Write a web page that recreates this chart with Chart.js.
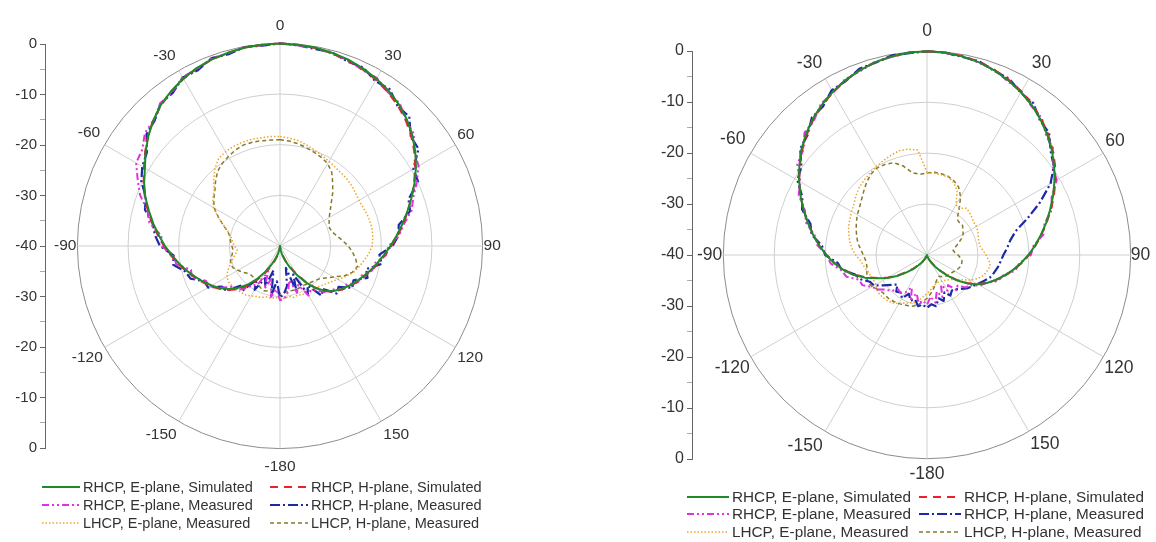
<!DOCTYPE html>
<html>
<head>
<meta charset="utf-8">
<script src="https://cdn.jsdelivr.net/npm/chart.js@4.4.1/dist/chart.umd.min.js"></script>
<style>
  html, body { margin: 0; padding: 0; background: #fff; width: 1156px; height: 542px; overflow: hidden; }
  body { position: relative; font-family: "Liberation Sans", Arial, sans-serif; }
  canvas { position: absolute; }
  .legend { position: absolute; display: grid; color: #333; white-space: nowrap; z-index: 2; }
  .legend .item { display: flex; align-items: center; }
  .legend svg { display: block; margin-right: 3px; }
</style>
</head>
<body>
<canvas id="axisLeft" width="50" height="444" style="left:0;top:24px"></canvas>
<canvas id="polarLeft" width="452" height="520" style="left:52px;top:-14px"></canvas>
<div id="legendLeft" class="legend" style="left:42px;top:478px;grid-template-columns:228px auto;grid-auto-rows:18px;font-size:14.5px"></div>

<canvas id="axisRight" width="48" height="448" style="left:650px;top:31px"></canvas>
<canvas id="polarRight" width="460" height="540" style="left:694px;top:-15px"></canvas>
<div id="legendRight" class="legend" style="left:687px;top:488px;grid-template-columns:232px auto;grid-auto-rows:17.5px;font-size:15.3px"></div>

<script>
// angle of every sample, degrees clockwise from the top
const angles = [0, 5, 10, 15, 20, 25, 30, 35, 40, 45, 50, 55, 60, 65, 70, 75, 80, 85,
  90, 95, 100, 105, 110, 115, 120, 125, 130, 135, 140, 145, 150, 155, 160, 165, 170, 175,
  180, 185, 190, 195, 200, 205, 210, 215, 220, 225, 230, 235, 240, 245, 250, 255, 260, 265,
  270, 275, 280, 285, 290, 295, 300, 305, 310, 315, 320, 325, 330, 335, 340, 345, 350, 355];

// left axis tick labels, top to bottom
const dbTickLabels = ['0', '-10', '-20', '-30', '-40', '-30', '-20', '-10', '0'];

const seriesNames = ['RHCP, E-plane, Simulated', 'RHCP, H-plane, Simulated',
  'RHCP, E-plane, Measured', 'RHCP, H-plane, Measured',
  'LHCP, E-plane, Measured', 'LHCP, H-plane, Measured'];

// ---- left figure (dB) ----
const leftESim = [0, -0.1, -0.2, -0.5, -0.8, -1.3, -1.9, -2.6, -3.5, -4.6, -5.9, -7.4, -9.0, -10.7, -12.4, -14.0, -15.5, -16.9, -18.2, -19.4, -20.5, -21.5, -22.5, -23.4, -24.3, -25.2, -26.2, -27.5, -29.2, -31.3, -33.5, -35.3, -36.8, -38.0, -39.0, -39.7, -40,
  -39.8, -39.2, -38.3, -37.2, -35.8, -34.0, -32.0, -30.0, -28.3, -26.8, -25.5, -24.4, -23.3, -22.2, -21.0, -19.8, -18.6, -17.3, -16.0, -14.6, -13.2, -11.7, -10.4, -9.2, -7.6, -6.1, -4.7, -3.5, -2.6, -1.8, -1.2, -0.8, -0.5, -0.2, -0.1];
const leftHSim = [0, -0.1, -0.3, -0.6, -1.0, -1.5, -2.1, -2.9, -3.8, -4.9, -6.2, -7.6, -9.2, -10.8, -12.4, -13.9, -15.3, -16.7, -18.0, -19.2, -20.3, -21.3, -22.3, -23.2, -24.1, -25.0, -26.0, -27.4, -29.3, -31.6, -33.8, -35.6, -37.0, -38.2, -39.1, -39.7, -40,
  -39.7, -39.0, -38.0, -36.8, -35.3, -33.5, -31.5, -29.5, -27.9, -26.5, -25.3, -24.2, -23.1, -22.0, -20.8, -19.6, -18.4, -17.1, -15.8, -14.4, -13.0, -11.6, -10.3, -9.0, -7.5, -6.0, -4.7, -3.6, -2.7, -1.9, -1.3, -0.8, -0.5, -0.2, -0.1];
const leftEMeas = [0, -0.3, -0.2, -0.7, -0.9, -1.6, -1.7, -2.9, -3.2, -4.9, -5.5, -7.6, -8.4, -10.2, -12.0, -13.1, -15.2, -16.4, -18.6, -19.0, -20.9, -21.2, -22.9, -23.0, -24.8, -25.0, -26.6, -27.0, -28.5, -29.4, -28.7, -31.5, -30.2, -33.0, -30.8, -29.6, -29.3,
  -31.5, -29.8, -33.2, -31.0, -34.5, -31.2, -30.5, -28.9, -27.8, -27.5, -25.6, -24.0, -23.8, -21.5, -21.8, -19.2, -18.9, -16.6, -16.5, -13.8, -12.9, -10.6, -9.0, -7.2, -6.8, -5.2, -4.8, -3.2, -2.9, -1.5, -1.4, -0.6, -0.6, -0.1, -0.2];
const leftHMeas = [0, -0.2, -0.5, -0.4, -1.2, -1.1, -2.4, -2.2, -3.9, -3.9, -6.3, -6.6, -9.6, -9.9, -13.0, -13.4, -16.2, -16.5, -17.8, -20.3, -19.6, -22.4, -21.6, -24.0, -23.5, -25.9, -25.4, -28.0, -27.2, -30.5, -29.0, -33.8, -30.5, -35.5, -32.0, -30.6, -29.8,
  -33.0, -30.2, -35.0, -31.5, -33.0, -30.0, -31.8, -28.5, -28.9, -26.2, -26.0, -23.6, -23.5, -21.2, -20.6, -18.6, -18.9, -16.3, -15.2, -14.5, -12.4, -11.8, -9.8, -8.6, -7.9, -5.6, -5.0, -3.3, -3.1, -1.6, -1.7, -0.5, -0.8, -0.1, -0.3];
const leftELhcp = [-18.4, -18.6, -18.9, -19.4, -19.9, -20.3, -20.7, -21.0, -21.2, -21.3, -21.5, -21.8, -22.0, -21.9, -21.7, -21.6, -21.5, -21.6, -21.8, -22.4, -23.2, -23.9, -24.6, -25.7, -26.8, -27.7, -28.3, -28.8, -29.1, -29.4, -29.6, -29.4, -29.7, -29.5, -29.9, -29.6, -29.7,
  -29.8, -29.5, -29.6, -29.2, -29.0, -28.6, -28.2, -28.0, -27.9, -27.7, -27.6, -27.9, -28.6, -29.6, -30.4, -31.1, -31.5, -31.0, -30.6, -30.2, -29.5, -28.2, -26.5, -24.8, -23.8, -23.0, -21.5, -20.0, -18.9, -18.5, -18.3, -18.2, -18.2, -18.3, -18.3];
const leftHLhcp = [-19.0, -19.2, -19.5, -19.9, -20.3, -20.7, -21.2, -22.2, -23.8, -25.3, -26.8, -27.9, -28.8, -29.3, -29.6, -29.3, -28.6, -27.6, -26.5, -25.6, -24.8, -24.2, -24.8, -26.0, -27.8, -29.0, -29.9, -30.3, -30.6, -30.8, -31.0, -30.9, -30.8, -30.9, -31.0, -30.7, -30.6,
  -30.8, -31.0, -30.8, -30.6, -30.9, -31.3, -31.6, -31.9, -31.9, -31.6, -31.0, -30.4, -29.8, -29.6, -29.9, -30.4, -30.7, -30.5, -30.2, -30.0, -29.4, -28.1, -26.6, -25.0, -24.0, -23.2, -22.0, -20.8, -20.1, -19.6, -19.1, -18.8, -18.8, -18.9, -19.0];

// ---- right figure (dB) ----
const rightESim = [0, -0.1, -0.4, -0.8, -1.4, -2.2, -3.1, -4.1, -5.3, -6.6, -8.0, -9.5, -11.1, -12.7, -14.3, -15.8, -17.3, -18.7, -20.1, -21.5, -22.9, -24.3, -25.7, -27.0, -28.5, -30.2, -32.2, -34.2, -35.9, -37.2, -38.2, -38.9, -39.4, -39.7, -39.9, -40, -40,
  -40, -40, -39.9, -39.7, -39.4, -38.9, -38.2, -37.3, -36.0, -34.6, -32.8, -31.0, -29.2, -27.0, -25.0, -23.3, -21.7, -20.2, -18.8, -17.3, -15.8, -14.2, -12.6, -11.0, -9.4, -7.8, -6.4, -5.1, -4.0, -3.0, -2.1, -1.4, -0.8, -0.4, -0.1];
const rightHSim = [0, -0.1, -0.3, -0.7, -1.3, -2.0, -2.9, -3.9, -5.1, -6.4, -7.8, -9.3, -10.9, -12.5, -14.1, -15.7, -17.2, -18.6, -20.0, -21.4, -22.8, -24.2, -25.6, -27.0, -28.6, -30.4, -32.4, -34.4, -36.0, -37.3, -38.3, -39.0, -39.5, -39.8, -40, -40, -40,
  -40, -40, -40, -39.8, -39.5, -39.0, -38.3, -37.4, -36.2, -34.8, -33.0, -31.2, -29.3, -27.2, -25.2, -23.4, -21.8, -20.3, -18.8, -17.3, -15.8, -14.2, -12.6, -11.0, -9.5, -8.0, -6.6, -5.3, -4.1, -3.1, -2.2, -1.4, -0.8, -0.4, -0.1];
const rightEMeas = [0, -0.2, -0.3, -0.9, -1.3, -2.4, -2.9, -4.3, -4.9, -6.9, -7.6, -9.8, -10.6, -13.0, -13.9, -16.1, -16.8, -19.0, -19.6, -21.8, -22.4, -24.5, -25.1, -27.1, -28.0, -29.6, -30.1, -31.5, -31.0, -32.8, -31.9, -33.5, -31.2, -32.6, -30.5, -31.8, -30.2,
  -31.0, -30.4, -32.2, -30.8, -33.0, -31.5, -30.9, -31.2, -30.0, -29.5, -28.2, -27.5, -26.0, -25.8, -23.6, -22.9, -21.0, -20.3, -18.4, -17.6, -15.4, -14.5, -12.2, -11.3, -8.9, -8.2, -6.0, -5.5, -3.7, -3.2, -1.9, -1.6, -0.7, -0.5, -0.1];
const rightHMeas = [0, -0.1, -0.5, -0.6, -1.5, -1.8, -3.2, -3.6, -5.5, -6.1, -8.3, -9.6, -12.0, -15.5, -19.0, -22.0, -23.4, -24.2, -25.0, -25.5, -25.9, -26.4, -26.9, -27.8, -28.6, -29.2, -29.8, -30.6, -31.2, -31.5, -30.8, -31.9, -30.4, -31.2, -29.8, -30.3, -29.6,
  -30.2, -29.8, -31.0, -30.5, -31.6, -30.2, -31.0, -30.6, -31.8, -30.9, -29.6, -28.0, -27.6, -26.1, -25.3, -23.0, -22.4, -20.0, -19.3, -17.0, -16.3, -13.9, -13.0, -10.6, -9.9, -7.5, -6.8, -4.8, -4.4, -2.6, -2.3, -1.1, -0.9, -0.2, -0.2];
const rightELhcp = [-23.8, -23.9, -24.0, -24.1, -24.8, -26.0, -28.6, -28.8, -28.0, -28.2, -28.5, -28.8, -28.8, -29.0, -29.3, -29.5, -29.5, -29.0, -28.4, -27.8, -27.4, -27.8, -28.2, -29.0, -30.2, -31.5, -32.5, -33.2, -33.6, -33.9, -34.1, -34.2, -34.2, -34.0, -33.6, -33.0, -32.4,
  -31.8, -31.0, -30.4, -30.0, -29.6, -29.0, -28.5, -28.2, -28.0, -27.9, -28.0, -28.4, -28.4, -28.2, -27.9, -27.4, -26.9, -26.0, -25.2, -24.6, -24.1, -23.6, -23.3, -22.9, -22.5, -21.8, -21.2, -20.8, -20.4, -20.0, -19.6, -19.2, -18.8, -18.9, -19.3];
const rightHLhcp = [-23.9, -23.7, -23.8, -24.0, -24.5, -25.3, -26.8, -29.0, -30.8, -31.0, -30.9, -31.4, -31.8, -32.6, -33.5, -34.3, -34.8, -34.5, -33.9, -33.4, -33.0, -33.0, -33.1, -33.4, -33.7, -34.0, -34.2, -34.3, -34.5, -34.8, -35.2, -35.0, -34.6, -33.9, -33.1, -32.3, -31.5,
  -30.8, -30.1, -29.6, -29.4, -29.2, -29.0, -28.8, -28.6, -28.6, -28.6, -28.2, -27.6, -27.2, -27.4, -27.8, -28.0, -27.9, -27.5, -26.9, -26.2, -25.7, -25.2, -24.7, -24.2, -23.8, -23.2, -22.4, -21.5, -20.7, -20.3, -20.4, -20.7, -21.9, -23.6, -24.1];

const seriesStyles = [
  {color: '#1f8a2a', dash: [], width: 2},
  {color: '#e8232d', dash: [8, 6], width: 2},
  {color: '#e030e0', dash: [7, 3, 2, 3, 2, 3], width: 2},
  {color: '#1c2aa8', dash: [10, 3, 2, 3], width: 2.2},
  {color: '#efa52c', dash: [1.5, 2], width: 1.5},
  {color: '#857a2a', dash: [4, 3], width: 1.5}
];

const FONT = '"Liberation Sans", Arial, sans-serif';

function angleText(a) {
  return a <= 150 ? String(a) : String(a - 360);
}

function createPolar(canvasId, series, labelSize, labelPads) {
  const ctx = document.getElementById(canvasId).getContext('2d');
  const datasets = series.map((values, i) => ({
    label: seriesNames[i],
    data: values,
    borderColor: seriesStyles[i].color,
    borderDash: seriesStyles[i].dash,
    borderWidth: seriesStyles[i].width,
    borderJoinStyle: 'round',
    fill: false,
    pointRadius: 0,
    tension: 0
  }));
  return new Chart(ctx, {
    type: 'radar',
    data: { labels: angles, datasets: datasets },
    options: {
      responsive: false,
      animation: false,
      events: [],
      plugins: { legend: { display: false }, tooltip: { enabled: false } },
      scales: {
        r: {
          min: -40,
          max: 0,
          ticks: { display: false, stepSize: 10 },
          grid: {
            circular: true,
            color: c => (c.tick && c.tick.value === 0 ? '#8c8c8c' : '#cfcfcf'),
            lineWidth: 1
          },
          angleLines: {
            color: '#cfcfcf',
            lineWidth: c => (angles[c.index] % 30 === 0 ? 1 : 0)
          },
          pointLabels: {
            display: true,
            color: '#333',
            font: c => ({ family: FONT, size: angles[c.index] % 30 === 0 ? labelSize : 1 }),
            padding: c => (angles[c.index] % 30 === 0 ? labelPads[angles[c.index]] : 0),
            callback: a => (a % 30 === 0 ? angleText(a) : '')
          }
        }
      }
    }
  });
}

function createDbAxis(canvasId, axisWidth, fontSize) {
  const ctx = document.getElementById(canvasId).getContext('2d');
  return new Chart(ctx, {
    type: 'line',
    data: { labels: [], datasets: [] },
    options: {
      responsive: false,
      animation: false,
      events: [],
      layout: { padding: { top: 20, bottom: 20, left: 0, right: 0 } },
      plugins: { legend: { display: false }, tooltip: { enabled: false } },
      scales: {
        x: { display: false },
        y: {
          min: -40,
          max: 40,
          afterFit: s => { s.width = axisWidth; },
          border: { display: true, color: '#666', width: 1 },
          grid: {
            drawOnChartArea: false,
            drawTicks: true,
            tickLength: 5,
            color: c => (c.tick && c.tick.value % 10 === 0 ? '#666' : '#aaa')
          },
          ticks: {
            stepSize: 5,
            autoSkip: false,
            padding: 3,
            color: '#333',
            font: { family: FONT, size: fontSize },
            callback: v => (v % 10 === 0 ? dbTickLabels[(40 - v) / 10] : '')
          }
        }
      }
    }
  });
}

function buildLegend(chart, el, sampleWidth) {
  chart.data.datasets.forEach(ds => {
    const item = document.createElement('div');
    item.className = 'item';
    const dash = ds.borderDash.length ? ` stroke-dasharray="${ds.borderDash.join(' ')}"` : '';
    item.innerHTML = `<svg width="${sampleWidth}" height="10"><line x1="0" y1="5" x2="${sampleWidth}" y2="5" stroke="${ds.borderColor}" stroke-width="${ds.borderWidth}"${dash}/></svg><span>${ds.label}</span>`;
    el.appendChild(item);
  });
}

const padsLeft = {0: 8, 30: 6, 60: 2, 90: 1, 120: 2, 150: 4, 180: 9, 210: 4, 240: 2, 270: 1, 300: 5, 330: 6};
const padsRight = {0: 10, 30: 6, 60: 2, 90: 0, 120: 1, 150: 3, 180: 4.5, 210: 5, 240: 1, 270: 1, 300: 6, 330: 6};

createDbAxis('axisLeft', 45, 15);
const polarL = createPolar('polarLeft', [leftESim, leftHSim, leftEMeas, leftHMeas, leftELhcp, leftHLhcp], 15.5, padsLeft);
buildLegend(polarL, document.getElementById('legendLeft'), 38);

createDbAxis('axisRight', 42, 16);
const polarR = createPolar('polarRight', [rightESim, rightHSim, rightEMeas, rightHMeas, rightELhcp, rightHLhcp], 17.5, padsRight);
buildLegend(polarR, document.getElementById('legendRight'), 42);
</script>
</body>
</html>
